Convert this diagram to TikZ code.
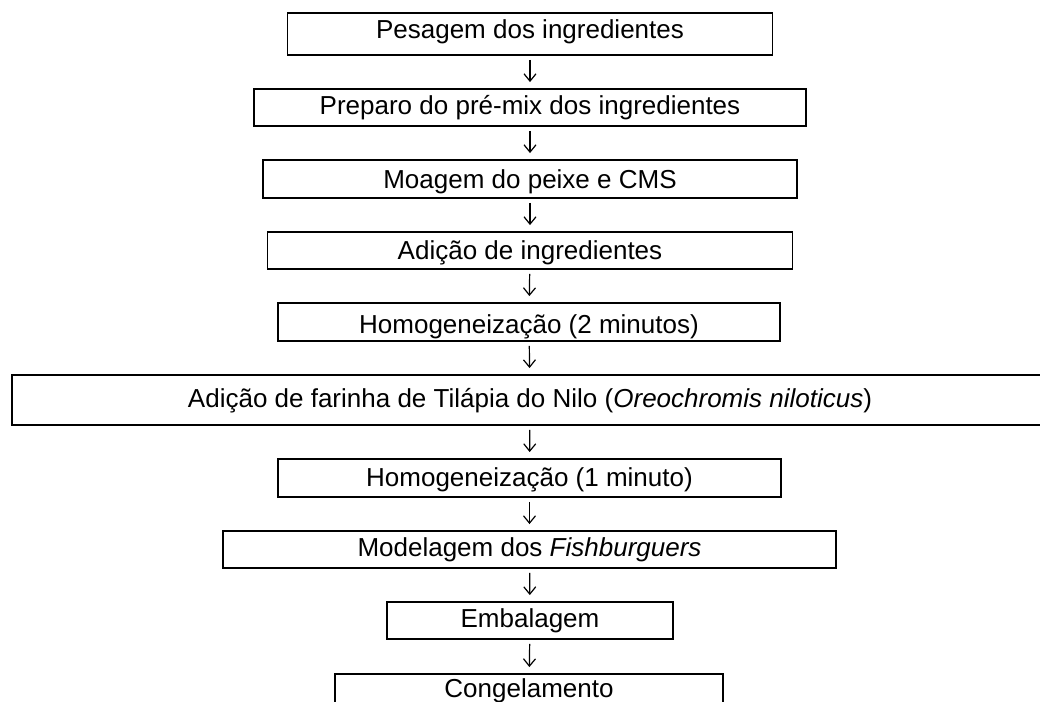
\documentclass[tikz,border=0pt]{standalone}
\usepackage{fontspec}
\setmainfont{Liberation Sans}
\usetikzlibrary{arrows.meta}
\begin{document}
\begin{tikzpicture}[x=0.75pt,y=-0.75pt,
  box/.style={draw, line width=1.4pt, rectangle, inner xsep=0pt, inner ysep=0pt,
    text height=14pt, text depth=0pt, font=\fontsize{19.5}{23}\selectfont, anchor=center},
  arr/.style={-{Straight Barb[length=5.5pt,width=9pt,line width=0.9pt]}, line width=0.9pt,
    shorten <=3pt, shorten >=4.5pt}]
\useasboundingbox (0,0) rectangle (1040,702);
\node[box, minimum width=363.75pt, minimum height=31.5pt, text depth=7.5pt] (n1) at (530,34) {Pesagem dos ingredientes};
\node[box, minimum width=414pt, minimum height=27.75pt, text depth=3.75pt] (n2) at (530,107.5) {Preparo do pré-mix dos ingredientes};
\node[box, minimum width=400.5pt, minimum height=28.5pt] (n3) at (530,179) {Moagem do peixe e CMS};
\node[box, minimum width=393.75pt, minimum height=27.75pt] (n4) at (530,250.5) {Adição de ingredientes};
\node[box, minimum width=376.5pt, minimum height=28.5pt, text height=17pt] (n5) at (529,322) {Homogeneização (2 minutos)};
\node[box, minimum width=777pt, minimum height=37.5pt, text depth=3pt] (n6) at (530,400) {Adição de farinha de Tilápia do Nilo (\textit{Oreochromis niloticus})};
\node[box, minimum width=377.25pt, minimum height=28.5pt, text depth=1.5pt] (n7) at (529.5,478) {Homogeneização (1 minuto)};
\node[box, minimum width=459.75pt, minimum height=27.75pt, text depth=3.75pt] (n8) at (529.5,549.5) {Modelagem dos \textit{Fishburguers}};
\node[box, minimum width=214.5pt, minimum height=27.75pt, text depth=3pt] (n9) at (530,620.5) {Embalagem};
\node[box, minimum width=291pt, minimum height=27.75pt, text depth=6pt] (n10) at (529,692.5) {Congelamento};
\draw[arr] (n1) -- (n2);
\draw[arr] (n2) -- (n3);
\draw[arr] (n3) -- (n4);
\draw[arr] (n4) -- (n5);
\draw[arr] (n5) -- (n6);
\draw[arr] (n6) -- (n7);
\draw[arr] (n7) -- (n8);
\draw[arr] (n8) -- (n9);
\draw[arr] (n9) -- (n10);
\end{tikzpicture}
\end{document}
